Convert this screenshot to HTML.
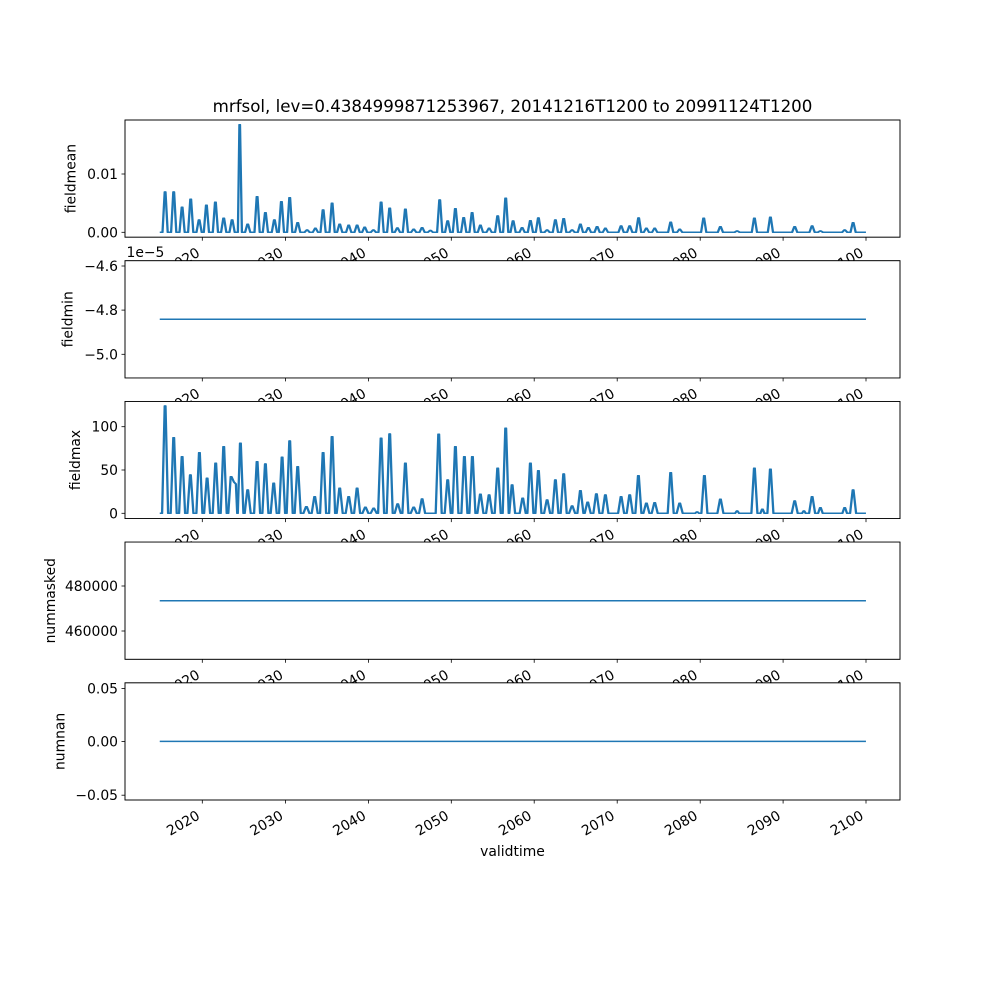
<!DOCTYPE html>
<html>
<head>
<meta charset="utf-8">
<style>
html,body{margin:0;padding:0;background:#fff;}
svg{display:block;}
text{font-family:"DejaVu Sans","Liberation Sans",sans-serif;fill:#000;}
.tl{font-size:13.9px;}
.ln{fill:none;stroke:#1f77b4;stroke-width:1.5;stroke-linejoin:round;stroke-linecap:square;}
.sp{fill:#fff;stroke:#000;stroke-width:0.8;}
.tk{stroke:#000;stroke-width:0.8;}
</style>
</head>
<body>
<svg width="1000" height="1000" viewBox="0 0 1000 1000" xmlns="http://www.w3.org/2000/svg">
<rect x="0" y="0" width="1000" height="1000" fill="#fff"/>

<!-- ===== Axes 1: fieldmean ===== -->
<rect class="sp" x="125" y="120" width="775" height="117.2"/>
<polyline id="s1" class="ln" points="160.5,232.3 162.1,232.3 164.3,192 165.1,192 167.3,232.3 170.7,232.3 172.9,192 173.7,192 175.9,232.3 179.1,232.3 181.3,207.3 182.1,207.3 184.3,232.3 187.7,232.3 189.9,199.3 190.7,199.3 192.9,232.3 196.1,232.3 198.3,220 199.1,220 201.3,232.3 203.4,232.3 205.6,205.3 206.4,205.3 208.6,232.3 212.4,232.3 214.6,202.3 215.4,202.3 217.6,232.3 220.7,232.3 222.9,218.3 223.7,218.3 225.9,232.3 229.1,232.3 231.3,220 232.1,220 234.3,232.3 237.5,232.3 239,124.7 239.6,124.7 241.5,232.3 244.7,232.3 246.9,224.3 247.7,224.3 249.9,232.3 254.1,232.3 256.3,196.7 257.1,196.7 259.3,232.3 262.4,232.3 264.6,212.7 265.4,212.7 267.6,232.3 271.4,232.3 273.6,220 274.4,220 276.6,232.3 278.4,232.3 280.6,201.7 281.4,201.7 283.6,232.3 286.7,232.3 288.9,197.7 289.7,197.7 291.9,232.3 294.7,232.3 296.9,222.7 297.7,222.7 299.9,232.3 304.1,232.3 306.3,230 307.1,230 309.3,232.3 312.4,232.3 314.6,228.3 315.4,228.3 317.6,232.3 320.1,232.3 322.3,210 323.1,210 325.3,232.3 329.1,232.3 331.3,203.3 332.1,203.3 334.3,232.3 336.7,232.3 338.9,224.3 339.7,224.3 341.9,232.3 345.7,232.3 347.9,225.3 348.7,225.3 350.9,232.3 354.1,232.3 356.3,225.3 357.1,225.3 359.3,232.3 361.7,232.3 363.9,227.3 364.7,227.3 366.9,232.3 370.4,232.3 372.6,230 373.4,230 375.6,232.3 378.1,232.3 380.3,202.3 381.1,202.3 383.3,232.3 386.7,232.3 388.9,208.3 389.7,208.3 391.9,232.3 394.4,232.3 396.6,228 397.4,228 399.6,232.3 402.4,232.3 404.6,209.3 405.4,209.3 407.6,232.3 410.7,232.3 412.9,229.3 413.7,229.3 415.9,232.3 419.1,232.3 421.3,227.7 422.1,227.7 424.3,232.3 427.4,232.3 429.6,230.5 430.4,230.5 432.6,232.3 436.7,232.3 438.9,200 439.7,200 441.9,232.3 444.7,232.3 446.9,221 447.7,221 449.9,232.3 452.4,232.3 454.6,208.7 455.4,208.7 457.6,232.3 460.7,232.3 462.9,217.7 463.7,217.7 465.9,232.3 469.1,232.3 471.3,212.7 472.1,212.7 474.3,232.3 477.4,232.3 479.6,225.3 480.4,225.3 482.6,232.3 486.1,232.3 488.3,228.3 489.1,228.3 491.3,232.3 494.7,232.3 496.9,216 497.7,216 499.9,232.3 502.7,232.3 504.9,198.3 505.7,198.3 507.9,232.3 510.1,232.3 512.3,221 513.1,221 515.3,232.3 519.1,232.3 521.3,227.7 522.1,227.7 524.3,232.3 527.4,232.3 529.6,220.7 530.4,220.7 532.6,232.3 535.4,232.3 537.6,218 538.4,218 540.6,232.3 544.1,232.3 546.3,230 547.1,230 549.3,232.3 552.4,232.3 554.6,220 555.4,220 557.6,232.3 560.7,232.3 562.9,218.7 563.7,218.7 565.9,232.3 569.1,232.3 571.3,230 572.1,230 574.3,232.3 577.4,232.3 579.6,224.3 580.4,224.3 582.6,232.3 585.4,232.3 587.6,227.7 588.4,227.7 590.6,232.3 594.1,232.3 596.3,226.7 597.1,226.7 599.3,232.3 602.4,232.3 604.6,228.3 605.4,228.3 607.6,232.3 618.1,232.3 620.3,226 621.1,226 623.3,232.3 626.7,232.3 628.9,226 629.7,226 631.9,232.3 635.6,232.3 637.8,218 638.6,218 640.8,232.3 643.4,232.3 645.6,228.3 646.4,228.3 648.6,232.3 651.7,232.3 653.9,228.3 654.7,228.3 656.9,232.3 667.7,232.3 669.9,222.3 670.7,222.3 672.9,232.3 676.7,232.3 678.9,229.3 679.7,229.3 681.9,232.3 700.7,232.3 702.9,218.3 703.7,218.3 705.9,232.3 717.4,232.3 719.6,226.7 720.4,226.7 722.6,232.3 734.1,232.3 736.3,231 737.1,231 739.3,232.3 751.4,232.3 753.6,218.3 754.4,218.3 756.6,232.3 767.4,232.3 769.6,217.3 770.4,217.3 772.6,232.3 791.7,232.3 793.9,226.7 794.7,226.7 796.9,232.3 809.1,232.3 811.3,226 812.1,226 814.3,232.3 817.4,232.3 819.6,231 820.4,231 822.6,232.3 841.7,232.3 843.9,230 844.7,230 846.9,232.3 850.1,232.3 852.3,222.7 853.1,222.7 855.3,232.3 864.4,232.3"/>
<use href="#s1" transform="translate(0.8,0)"/>
<rect x="125" y="120" width="775" height="117.2" fill="none" stroke="#000" stroke-width="0.8"/>
<g class="tk">
<line x1="121.5" y1="232.3" x2="125" y2="232.3"/><line x1="121.5" y1="174" x2="125" y2="174"/>
<line x1="202.3" y1="237.2" x2="202.3" y2="240.7"/><line x1="285.6" y1="237.2" x2="285.6" y2="240.7"/><line x1="368.5" y1="237.2" x2="368.5" y2="240.7"/><line x1="451.3" y1="237.2" x2="451.3" y2="240.7"/><line x1="534.2" y1="237.2" x2="534.2" y2="240.7"/><line x1="617.2" y1="237.2" x2="617.2" y2="240.7"/><line x1="700.2" y1="237.2" x2="700.2" y2="240.7"/><line x1="783.1" y1="237.2" x2="783.1" y2="240.7"/><line x1="866" y1="237.2" x2="866" y2="240.7"/>
</g>
<g class="tl" text-anchor="end">
<text x="118" y="237.3">0.00</text><text x="118" y="179">0.01</text>
</g>
<g class="tl" text-anchor="end">
<text transform="translate(200.8,255.5) rotate(-30)">2020</text>
<text transform="translate(284.1,255.5) rotate(-30)">2030</text>
<text transform="translate(367,255.5) rotate(-30)">2040</text>
<text transform="translate(449.8,255.5) rotate(-30)">2050</text>
<text transform="translate(532.7,255.5) rotate(-30)">2060</text>
<text transform="translate(615.7,255.5) rotate(-30)">2070</text>
<text transform="translate(698.7,255.5) rotate(-30)">2080</text>
<text transform="translate(781.6,255.5) rotate(-30)">2090</text>
<text transform="translate(864.5,255.5) rotate(-30)">2100</text>
</g>
<text class="tl" text-anchor="middle" transform="translate(75.7,178.6) rotate(-90)">fieldmean</text>
<text x="512.5" y="112" text-anchor="middle" style="font-size:16.67px">mrfsol, lev=0.4384999871253967, 20141216T1200 to 20991124T1200</text>

<!-- ===== Axes 2: fieldmin ===== -->
<rect class="sp" x="125" y="260.7" width="775" height="117.2"/>
<polyline class="ln" points="160.5,319.3 865.2,319.3"/>
<rect x="125" y="260.7" width="775" height="117.2" fill="none" stroke="#000" stroke-width="0.8"/>
<g class="tk">
<line x1="121.5" y1="266" x2="125" y2="266"/><line x1="121.5" y1="310.1" x2="125" y2="310.1"/><line x1="121.5" y1="354.3" x2="125" y2="354.3"/>
<line x1="202.3" y1="377.9" x2="202.3" y2="381.4"/><line x1="285.6" y1="377.9" x2="285.6" y2="381.4"/><line x1="368.5" y1="377.9" x2="368.5" y2="381.4"/><line x1="451.3" y1="377.9" x2="451.3" y2="381.4"/><line x1="534.2" y1="377.9" x2="534.2" y2="381.4"/><line x1="617.2" y1="377.9" x2="617.2" y2="381.4"/><line x1="700.2" y1="377.9" x2="700.2" y2="381.4"/><line x1="783.1" y1="377.9" x2="783.1" y2="381.4"/><line x1="866" y1="377.9" x2="866" y2="381.4"/>
</g>
<g class="tl" text-anchor="end">
<text x="118" y="271">−4.6</text><text x="118" y="315.1">−4.8</text><text x="118" y="359.3">−5.0</text>
</g>
<text class="tl" x="126.5" y="257">1e−5</text>
<g class="tl" text-anchor="end">
<text transform="translate(200.8,396.2) rotate(-30)">2020</text>
<text transform="translate(284.1,396.2) rotate(-30)">2030</text>
<text transform="translate(367,396.2) rotate(-30)">2040</text>
<text transform="translate(449.8,396.2) rotate(-30)">2050</text>
<text transform="translate(532.7,396.2) rotate(-30)">2060</text>
<text transform="translate(615.7,396.2) rotate(-30)">2070</text>
<text transform="translate(698.7,396.2) rotate(-30)">2080</text>
<text transform="translate(781.6,396.2) rotate(-30)">2090</text>
<text transform="translate(864.5,396.2) rotate(-30)">2100</text>
</g>
<text class="tl" text-anchor="middle" transform="translate(72.7,319.3) rotate(-90)">fieldmin</text>

<!-- ===== Axes 3: fieldmax ===== -->
<rect class="sp" x="125" y="401.4" width="775" height="117.2"/>
<polyline id="s3" class="ln" points="160.5,513.3 161.7,513.3 164.3,406 165.1,406 167.7,513.3 170.3,513.3 172.9,437.7 173.7,437.7 176.3,513.3 178.7,513.3 181.3,456.7 182.1,456.7 184.7,513.3 187,513.3 189.6,475 190.4,475 193,513.3 196,513.3 198.6,452.7 199.4,452.7 202,513.3 203.7,513.3 206.3,478.3 207.1,478.3 209.7,513.3 212.3,513.3 214.9,463.3 215.7,463.3 218.3,513.3 220.3,513.3 222.9,446.7 223.7,446.7 226.3,513.3 227.9,513.3 230.3,476.7 231.1,476.7 233.5,482 235.5,484 236.8,513.3 237.4,513.3 239.6,443.3 240.4,443.3 243,513.3 244.3,513.3 246.9,490 247.7,490 250.3,513.3 253.7,513.3 256.3,461.7 257.1,461.7 259.7,513.3 262,513.3 264.6,464 265.4,464 268,513.3 270.3,513.3 272.9,483.3 273.7,483.3 276.3,513.3 278.7,513.3 281.3,457.3 282.1,457.3 284.7,513.3 286.3,513.3 288.9,441 289.7,441 292.3,513.3 294.3,513.3 296.9,466.7 297.7,466.7 300.3,513.3 303,513.3 305.6,506.7 306.4,506.7 309,513.3 311.3,513.3 313.9,496.7 314.7,496.7 317.3,513.3 319.7,513.3 322.3,452.7 323.1,452.7 325.7,513.3 328.7,513.3 331.3,436.7 332.1,436.7 334.7,513.3 336.3,513.3 338.9,488.3 339.7,488.3 342.3,513.3 345.3,513.3 347.9,496.7 348.7,496.7 351.3,513.3 353.7,513.3 356.3,488.3 357.1,488.3 359.7,513.3 362,513.3 364.6,507.3 365.4,507.3 368,513.3 370.3,513.3 372.9,508.3 373.7,508.3 376.3,513.3 377.7,513.3 380.3,438.3 381.1,438.3 383.7,513.3 386.3,513.3 388.9,434 389.7,434 392.3,513.3 394.3,513.3 396.9,504 397.7,504 400.3,513.3 402,513.3 404.6,463.3 405.4,463.3 408,513.3 410.3,513.3 412.9,507.3 413.7,507.3 416.3,513.3 418.7,513.3 421.3,499 422.1,499 424.7,513.3 435.3,513.3 437.9,434.3 438.7,434.3 441.3,513.3 444.3,513.3 446.9,480 447.7,480 450.3,513.3 452,513.3 454.6,446.7 455.4,446.7 458,513.3 461,513.3 463.6,456.7 464.4,456.7 467,513.3 469,513.3 471.6,456.7 472.4,456.7 475,513.3 477,513.3 479.6,494.3 480.4,494.3 483,513.3 485.7,513.3 488.3,495 489.1,495 491.7,513.3 494.3,513.3 496.9,468.3 497.7,468.3 500.3,513.3 502.3,513.3 504.9,428.3 505.7,428.3 508.3,513.3 508.9,513.3 511.3,485 512.1,485 514.7,513.3 519.3,513.3 521.9,498.3 522.7,498.3 525.3,513.3 527,513.3 529.6,463.3 530.4,463.3 533,513.3 535,513.3 537.6,470.7 538.4,470.7 541,513.3 543.7,513.3 546.3,500 547.1,500 549.7,513.3 552,513.3 554.6,480 555.4,480 558,513.3 560.3,513.3 562.9,474 563.7,474 566.3,513.3 568.7,513.3 571.3,506 572.1,506 574.7,513.3 577,513.3 579.6,490.7 580.4,490.7 583,513.3 584.3,513.3 586.9,502.3 587.7,502.3 590.3,513.3 593,513.3 595.6,494 596.4,494 599,513.3 602,513.3 604.6,495 605.4,495 608,513.3 617.7,513.3 620.3,496.7 621.1,496.7 623.7,513.3 626.3,513.3 628.9,495 629.7,495 632.3,513.3 635,513.3 637.6,475.7 638.4,475.7 641,513.3 643,513.3 645.6,503.3 646.4,503.3 649,513.3 651.3,513.3 653.9,502.7 654.7,502.7 657.3,513.3 667.3,513.3 669.9,472.7 670.7,472.7 673.3,513.3 676.3,513.3 678.9,503.3 679.7,503.3 682.3,513.3 694.7,513.3 696.3,512 697.1,512 698.7,513.3 701,513.3 703.6,475.7 704.4,475.7 707,513.3 717,513.3 719.6,499.3 720.4,499.3 723,513.3 734.7,513.3 736.3,511 737.1,511 738.7,513.3 751,513.3 753.6,468.3 754.4,468.3 757,513.3 760,513.3 761.6,509.3 762.4,509.3 764,513.3 767,513.3 769.6,469.3 770.4,469.3 773,513.3 791.3,513.3 793.9,501 794.7,501 797.3,513.3 801.7,513.3 803.1,511 803.9,511 805.3,513.3 808.7,513.3 811.3,496.7 812.1,496.7 814.7,513.3 817.7,513.3 819.6,507.7 820.4,507.7 822.3,513.3 842,513.3 843.9,507.7 844.7,507.7 846.6,513.3 849.7,513.3 852.3,490 853.1,490 855.7,513.3 864.4,513.3"/>
<use href="#s3" transform="translate(0.8,0)"/>
<rect x="125" y="401.4" width="775" height="117.2" fill="none" stroke="#000" stroke-width="0.8"/>
<g class="tk">
<line x1="121.5" y1="513.3" x2="125" y2="513.3"/><line x1="121.5" y1="470" x2="125" y2="470"/><line x1="121.5" y1="426.7" x2="125" y2="426.7"/>
<line x1="202.3" y1="518.6" x2="202.3" y2="522.1"/><line x1="285.6" y1="518.6" x2="285.6" y2="522.1"/><line x1="368.5" y1="518.6" x2="368.5" y2="522.1"/><line x1="451.3" y1="518.6" x2="451.3" y2="522.1"/><line x1="534.2" y1="518.6" x2="534.2" y2="522.1"/><line x1="617.2" y1="518.6" x2="617.2" y2="522.1"/><line x1="700.2" y1="518.6" x2="700.2" y2="522.1"/><line x1="783.1" y1="518.6" x2="783.1" y2="522.1"/><line x1="866" y1="518.6" x2="866" y2="522.1"/>
</g>
<g class="tl" text-anchor="end">
<text x="118" y="518.3">0</text><text x="118" y="475">50</text><text x="118" y="431.7">100</text>
</g>
<g class="tl" text-anchor="end">
<text transform="translate(200.8,536.9) rotate(-30)">2020</text>
<text transform="translate(284.1,536.9) rotate(-30)">2030</text>
<text transform="translate(367,536.9) rotate(-30)">2040</text>
<text transform="translate(449.8,536.9) rotate(-30)">2050</text>
<text transform="translate(532.7,536.9) rotate(-30)">2060</text>
<text transform="translate(615.7,536.9) rotate(-30)">2070</text>
<text transform="translate(698.7,536.9) rotate(-30)">2080</text>
<text transform="translate(781.6,536.9) rotate(-30)">2090</text>
<text transform="translate(864.5,536.9) rotate(-30)">2100</text>
</g>
<text class="tl" text-anchor="middle" transform="translate(80,460) rotate(-90)">fieldmax</text>

<!-- ===== Axes 4: nummasked ===== -->
<rect class="sp" x="125" y="542.1" width="775" height="117.2"/>
<polyline class="ln" points="160.5,600.7 865.2,600.7"/>
<rect x="125" y="542.1" width="775" height="117.2" fill="none" stroke="#000" stroke-width="0.8"/>
<g class="tk">
<line x1="121.5" y1="586" x2="125" y2="586"/><line x1="121.5" y1="631" x2="125" y2="631"/>
<line x1="202.3" y1="659.3" x2="202.3" y2="662.8"/><line x1="285.6" y1="659.3" x2="285.6" y2="662.8"/><line x1="368.5" y1="659.3" x2="368.5" y2="662.8"/><line x1="451.3" y1="659.3" x2="451.3" y2="662.8"/><line x1="534.2" y1="659.3" x2="534.2" y2="662.8"/><line x1="617.2" y1="659.3" x2="617.2" y2="662.8"/><line x1="700.2" y1="659.3" x2="700.2" y2="662.8"/><line x1="783.1" y1="659.3" x2="783.1" y2="662.8"/><line x1="866" y1="659.3" x2="866" y2="662.8"/>
</g>
<g class="tl" text-anchor="end">
<text x="118" y="591">480000</text><text x="118" y="636">460000</text>
</g>
<g class="tl" text-anchor="end">
<text transform="translate(200.8,677.6) rotate(-30)">2020</text>
<text transform="translate(284.1,677.6) rotate(-30)">2030</text>
<text transform="translate(367,677.6) rotate(-30)">2040</text>
<text transform="translate(449.8,677.6) rotate(-30)">2050</text>
<text transform="translate(532.7,677.6) rotate(-30)">2060</text>
<text transform="translate(615.7,677.6) rotate(-30)">2070</text>
<text transform="translate(698.7,677.6) rotate(-30)">2080</text>
<text transform="translate(781.6,677.6) rotate(-30)">2090</text>
<text transform="translate(864.5,677.6) rotate(-30)">2100</text>
</g>
<text class="tl" text-anchor="middle" transform="translate(55,600.7) rotate(-90)">nummasked</text>

<!-- ===== Axes 5: numnan ===== -->
<rect class="sp" x="125" y="682.8" width="775" height="117.2"/>
<polyline class="ln" points="160.5,741.4 865.2,741.4"/>
<rect x="125" y="682.8" width="775" height="117.2" fill="none" stroke="#000" stroke-width="0.8"/>
<g class="tk">
<line x1="121.5" y1="688.6" x2="125" y2="688.6"/><line x1="121.5" y1="741.4" x2="125" y2="741.4"/><line x1="121.5" y1="795.2" x2="125" y2="795.2"/>
<line x1="202.3" y1="800" x2="202.3" y2="803.5"/><line x1="285.6" y1="800" x2="285.6" y2="803.5"/><line x1="368.5" y1="800" x2="368.5" y2="803.5"/><line x1="451.3" y1="800" x2="451.3" y2="803.5"/><line x1="534.2" y1="800" x2="534.2" y2="803.5"/><line x1="617.2" y1="800" x2="617.2" y2="803.5"/><line x1="700.2" y1="800" x2="700.2" y2="803.5"/><line x1="783.1" y1="800" x2="783.1" y2="803.5"/><line x1="866" y1="800" x2="866" y2="803.5"/>
</g>
<g class="tl" text-anchor="end">
<text x="118" y="693.6">0.05</text><text x="118" y="746.4">0.00</text><text x="118" y="800.2">−0.05</text>
</g>
<g class="tl" text-anchor="end">
<text transform="translate(200.8,818.3) rotate(-30)">2020</text>
<text transform="translate(284.1,818.3) rotate(-30)">2030</text>
<text transform="translate(367,818.3) rotate(-30)">2040</text>
<text transform="translate(449.8,818.3) rotate(-30)">2050</text>
<text transform="translate(532.7,818.3) rotate(-30)">2060</text>
<text transform="translate(615.7,818.3) rotate(-30)">2070</text>
<text transform="translate(698.7,818.3) rotate(-30)">2080</text>
<text transform="translate(781.6,818.3) rotate(-30)">2090</text>
<text transform="translate(864.5,818.3) rotate(-30)">2100</text>
</g>
<text class="tl" text-anchor="middle" transform="translate(64.3,741.4) rotate(-90)">numnan</text>
<text class="tl" x="512.5" y="856" text-anchor="middle">validtime</text>
</svg>
</body>
</html>
